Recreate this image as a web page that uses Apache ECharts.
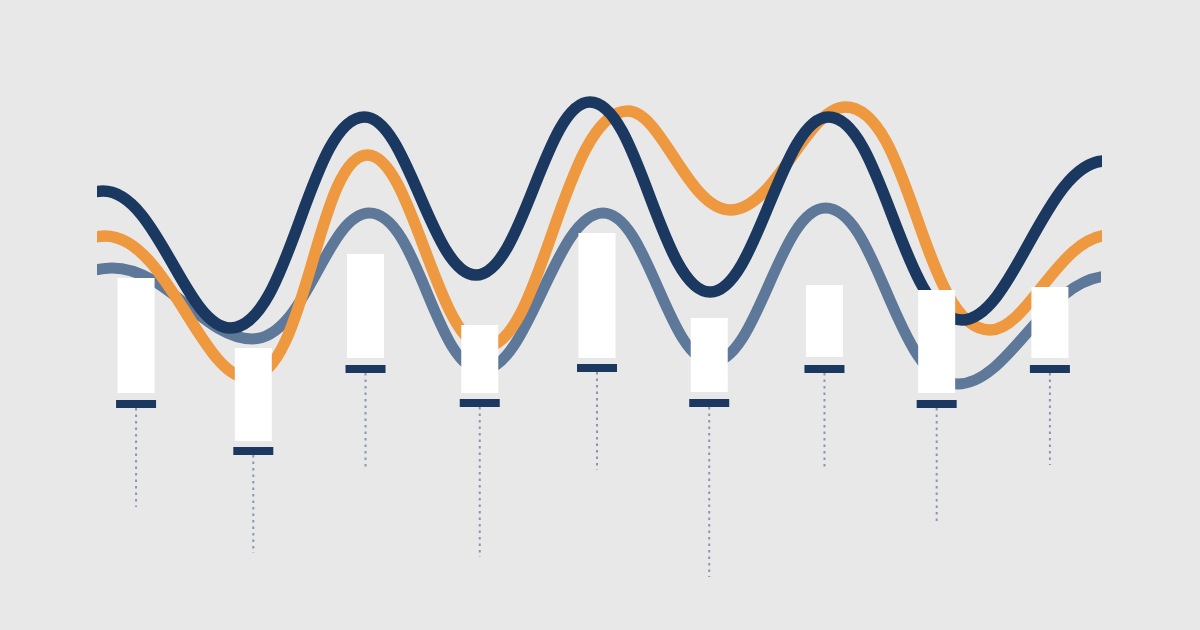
<!DOCTYPE html>
<html>
<head>
<meta charset="utf-8">
<script src="https://cdn.jsdelivr.net/npm/echarts@6/dist/echarts.min.js"></script>
<style>
html,body{margin:0;padding:0;background:#e8e8e8;}
#chart{width:1200px;height:630px;}
</style>
</head>
<body>
<div id="chart"></div>
<script>
// Wave lines: peaks and troughs (x on 0..100 scale, value on 0..120 scale);
// the first and last points lie just outside the plotted range and get clipped.
const navyX = [-12.8, 0.5, 13.2, 26.6, 37.7, 49.1, 61.1, 72.9, 86.2, 100.5, 113.0];
const navyY = [60, 81.8, 54.4, 96.6, 65, 99.6, 61.6, 96.6, 56, 87.8, 64];

const orangeX = [-11.8, 0.7, 15.0, 26.9, 38.6, 52.9, 63.1, 74.6, 89.0, 101.0, 113.0];
const orangeY = [56, 72.8, 44.4, 89, 50.6, 97.8, 78, 98.6, 54, 73, 60];

const slateX = [-10.8, 1.4, 15.4, 27.1, 38.3, 50.4, 61.3, 72.6, 85.8, 101.0, 113.0];
const slateY = [54, 66.4, 52.2, 77.4, 46, 77.4, 47.6, 78.4, 43.2, 64.8, 54];

// Floating white bars with marker and dotted stem
const barX      = [3.8, 15.5, 26.7, 38.1, 49.8, 61.0, 72.5, 83.7, 95.0];
const barTop    = [64.4, 50.4, 69.2, 55.0, 73.4, 56.4, 63.0, 62.0, 62.6];
const barBottom = [41.4, 31.8, 48.4, 41.4, 48.4, 41.6, 48.6, 41.4, 48.4];
const markerVal = [39.2, 29.8, 46.2, 39.4, 46.4, 39.4, 46.2, 39.2, 46.2];
const stemEnd   = [18.6, 9.4, 26.0, 8.6, 26.0, 4.6, 26.0, 15.4, 27.0];

const chart = echarts.init(document.getElementById('chart'), null, {renderer:'canvas'});

function lineSeries(name, xs, ys, color, width, z) {
  return {
    name, type:'line', smooth:0.4, symbol:'none', clip:true, z,
    data: xs.map((x,i)=>[x, ys[i]]),
    lineStyle:{color, width, cap:'butt'}
  };
}

const option = {
  backgroundColor:'#e8e8e8',
  animation:false,
  grid:{left:103, right:105, top:0, bottom:30},
  xAxis:{type:'value', min:0.5, max:99.5, show:false},
  yAxis:{type:'value', min:0, max:120, show:false},
  series:[
    lineSeries('slate', slateX, slateY, '#5d7898', 11, 2),
    lineSeries('orange', orangeX, orangeY, '#ee983f', 11.5, 3),
    lineSeries('navy', navyX, navyY, '#1b3861', 11.5, 4),
    {
      type:'custom', z:10, clip:false,
      data: barX.map((x,i)=>[x, barTop[i], barBottom[i], markerVal[i], stemEnd[i]]),
      renderItem(params, api){
        const x = api.value(0);
        const t = api.coord([x, api.value(1)]);
        const b = api.coord([x, api.value(2)]);
        const m = api.coord([x, api.value(3)]);
        const e = api.coord([x, api.value(4)]);
        return {type:'group', children:[
          {type:'line', shape:{x1:m[0], y1:m[1]+4, x2:e[0], y2:e[1]},
           style:{stroke:'#8798b4', lineWidth:2, lineDash:[2.5,4]}},
          {type:'rect', shape:{x:t[0]-18.5, y:t[1], width:37, height:b[1]-t[1]},
           style:{fill:'#ffffff'}},
          {type:'rect', shape:{x:m[0]-20, y:m[1]-4, width:40, height:8},
           style:{fill:'#1b3861'}}
        ]};
      }
    }
  ]
};
chart.setOption(option);
</script>
</body>
</html>
